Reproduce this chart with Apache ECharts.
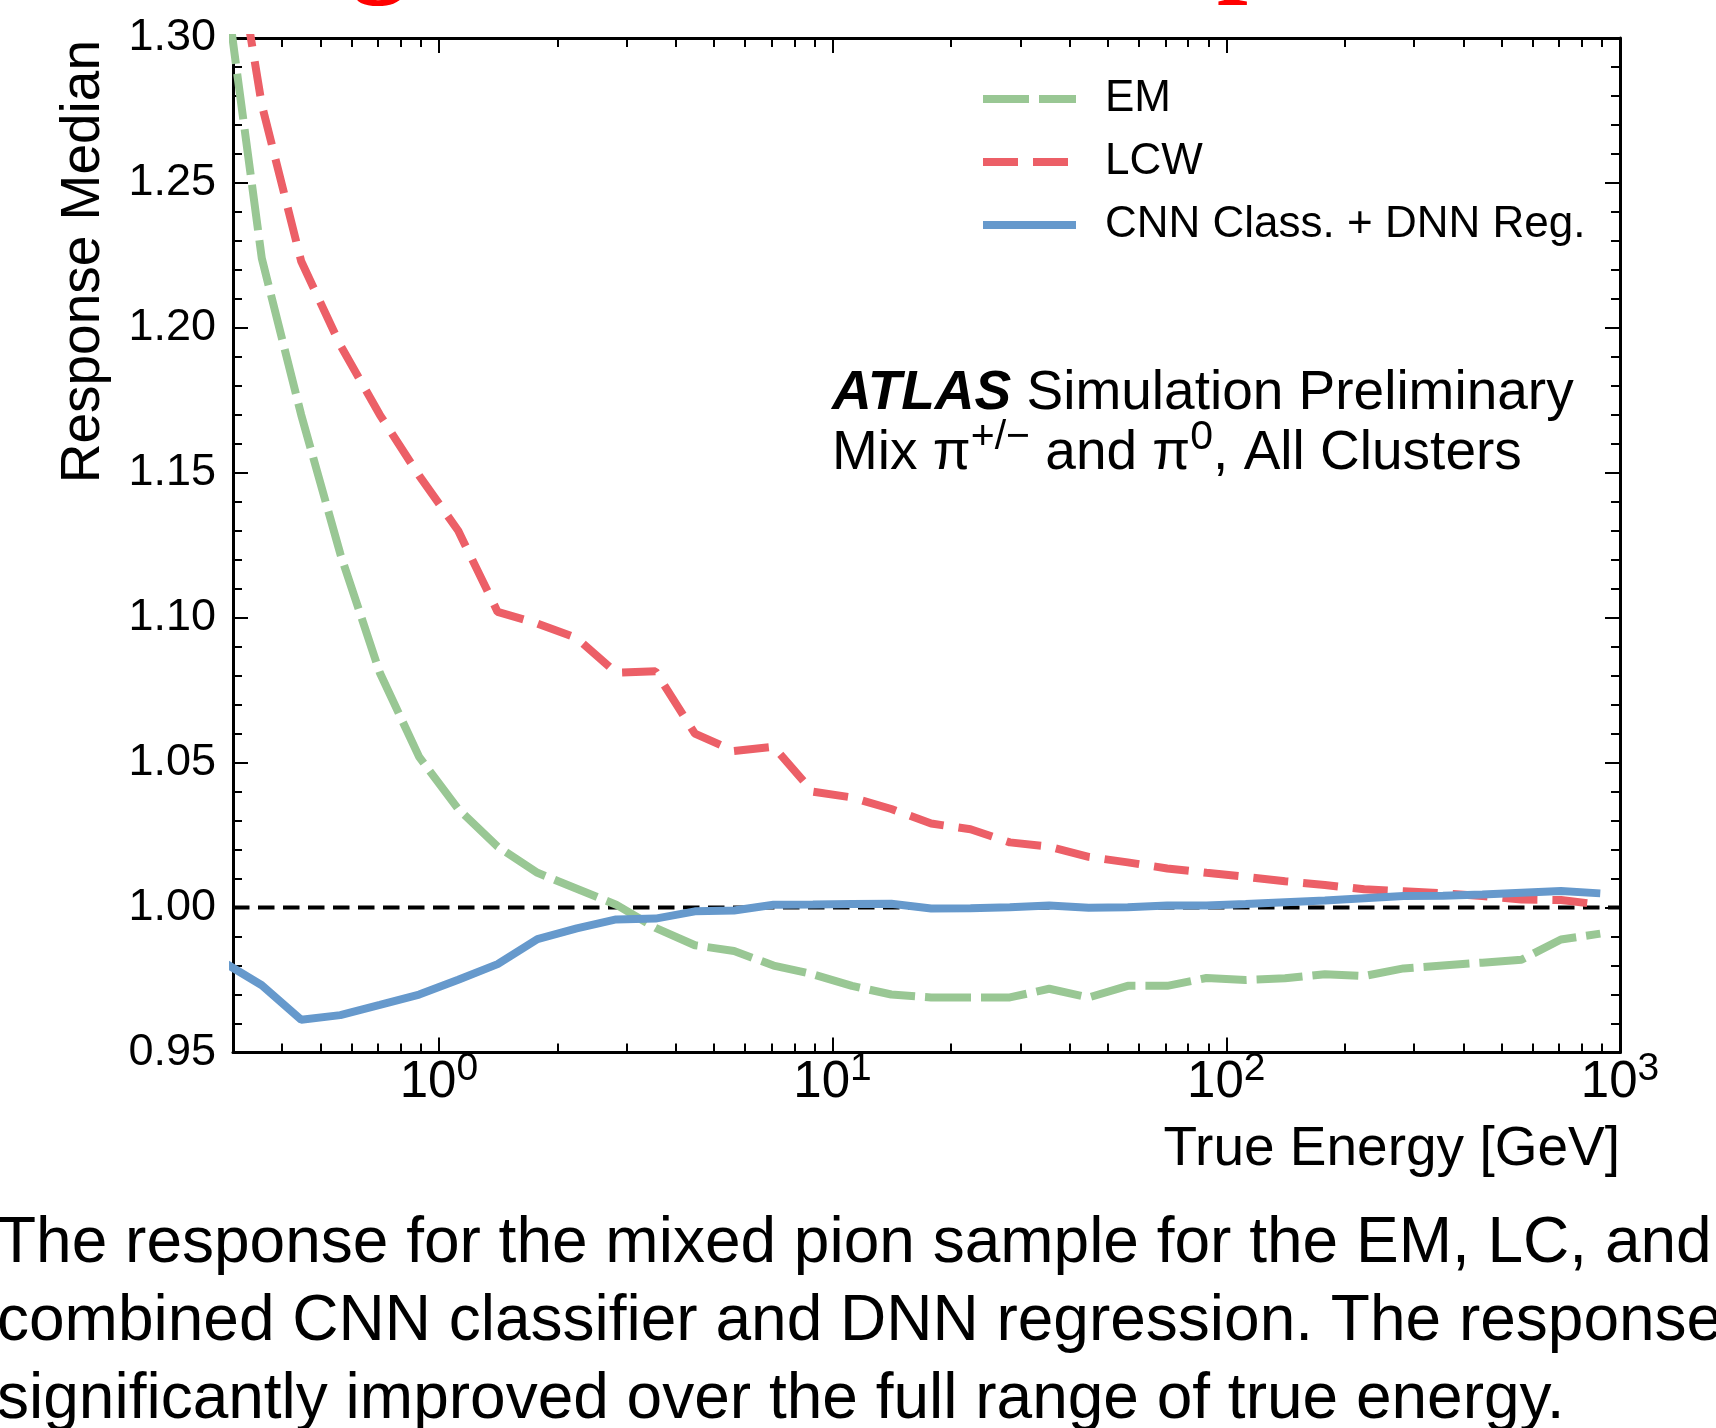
<!DOCTYPE html>
<html>
<head>
<meta charset="utf-8">
<title>Response Median vs True Energy</title>
<script src="https://cdn.jsdelivr.net/npm/echarts@6/dist/echarts.min.js"></script>
<style>
  html, body { margin: 0; padding: 0; background: #fff; }
  #chart { width: 1716px; height: 1428px; }
</style>
</head>
<body>
<div id="chart"></div>
<script>
// bin centres of the true energy [GeV]
const energy = [0.282, 0.355, 0.447, 0.562, 0.708, 0.891, 1.12, 1.41, 1.78, 2.24, 2.82, 3.55,
  4.47, 5.62, 7.08, 8.91, 11.2, 14.1, 17.8, 22.4, 28.2, 35.5, 44.7, 56.2, 70.8, 89.1,
  112, 141, 178, 224, 282, 355, 447, 562, 708, 891];

const emResp = [1.326, 1.224, 1.170, 1.122, 1.081, 1.052, 1.034, 1.021, 1.012, 1.0065, 1.001, 0.993,
  0.987, 0.985, 0.980, 0.977, 0.973, 0.970, 0.969, 0.969, 0.969, 0.972, 0.969, 0.973, 0.973, 0.9757,
  0.975, 0.9756, 0.977, 0.9764, 0.979, 0.980, 0.981, 0.982, 0.989, 0.991];

const lcwResp = [1.36, 1.277, 1.223, 1.194, 1.170, 1.149, 1.130, 1.102, 1.098, 1.093, 1.081, 1.0815,
  1.060, 1.054, 1.0555, 1.040, 1.038, 1.034, 1.029, 1.027, 1.0225, 1.021, 1.0175, 1.0156, 1.0135, 1.012,
  1.0106, 1.0091, 1.0078, 1.0063, 1.0056, 1.0049, 1.004, 1.0028, 1.0026, 1.001];

const cnnResp = [0.9814, 0.9732, 0.9613, 0.9629, 0.9664, 0.970, 0.9751, 0.9805, 0.9891, 0.9928, 0.9959, 0.9962,
  0.9987, 0.999, 1.001, 1.0011, 1.0012, 1.0013, 0.9997, 0.9998, 1.0001, 1.0007, 0.9999, 1.0001, 1.0007, 1.0007,
  1.0012, 1.0018, 1.0024, 1.0032, 1.004, 1.0041, 1.0045, 1.0051, 1.0057, 1.0049];

// unity reference line
const refX = [0.3, 1000];
const refY = [1, 1];

const xMajorTicks = [1, 10, 100, 1000];
const xMinorTicks = [0.4, 0.5, 0.6, 0.7, 0.8, 0.9, 2, 3, 4, 5, 6, 7, 8, 9,
  20, 30, 40, 50, 60, 70, 80, 90, 200, 300, 400, 500, 600, 700, 800, 900];

const FONT = "Liberation Sans";
const captionLines = [
  "The response for the mixed pion sample for the EM, LC, and",
  "combined CNN classifier and DNN regression. The response",
  "significantly improved over the full range of true energy."
];

const pairs = (xs, ys) => xs.map((x, i) => [x, ys[i]]);

const chart = echarts.init(document.getElementById("chart"));

function xAxisDef(pos, ticks, len, withLine, withLabel) {
  return {
    type: "log", logBase: 10, min: 0.3, max: 1000, position: pos,
    axisLine: { show: withLine, onZero: false, lineStyle: { color: "#000", width: 3 } },
    axisTick: { show: true, inside: true, length: len, customValues: ticks, lineStyle: { color: "#000", width: 2 } },
    axisLabel: withLabel ? {
      show: true, customValues: xMajorTicks, margin: 0, color: "#000",
      formatter: v => "{b|10}{s|" + Math.round(Math.log10(v)) + "}",
      rich: {
        b: { fontSize: 51, fontFamily: FONT, color: "#000", lineHeight: 60 },
        s: { fontSize: 39, fontFamily: FONT, color: "#000", lineHeight: 60, padding: [0, 0, 27, 0] }
      }
    } : { show: false },
    splitLine: { show: false }, minorTick: { show: false }, minorSplitLine: { show: false }
  };
}

function yAxisDef(pos, withLabel) {
  return {
    type: "value", min: 0.95, max: 1.30, interval: 0.05, position: pos,
    axisLine: { show: true, onZero: false, lineStyle: { color: "#000", width: 3 } },
    axisTick: { show: true, inside: true, length: 15, lineStyle: { color: "#000", width: 2 } },
    minorTick: { show: true, splitNumber: 5, length: 9, lineStyle: { color: "#000", width: 2 } },
    axisLabel: withLabel ? {
      show: true, fontSize: 45, fontFamily: FONT, color: "#000", margin: 17,
      formatter: v => v.toFixed(2)
    } : { show: false },
    splitLine: { show: false }, minorSplitLine: { show: false }
  };
}

const option = {
  animation: false,
  backgroundColor: "#fff",
  grid: { left: 233, right: 96, top: 38, bottom: 375.5 },
  xAxis: [
    xAxisDef("bottom", xMajorTicks, 15, true, true),
    xAxisDef("bottom", xMinorTicks, 9, false, false),
    xAxisDef("top", xMajorTicks, 15, true, false),
    xAxisDef("top", xMinorTicks, 9, false, false)
  ],
  yAxis: [yAxisDef("left", true), yAxisDef("right", false)],
  legend: {
    orient: "vertical", left: 974, top: 72,
    itemWidth: 93, itemHeight: 24, itemGap: 19,
    data: ["EM", "LCW", "CNN Class. + DNN Reg."],
    itemStyle: { opacity: 0 },
    lineStyle: { width: 8 },
    textStyle: { fontSize: 44, fontFamily: FONT, color: "#000", padding: [0, 0, 0, 24] }
  },
  series: [
    {
      name: "unity", type: "line", data: pairs(refX, refY), symbol: "none", silent: true,
      lineStyle: { color: "#000", width: 4, type: [16.5, 8.5] }, z: 1
    },
    {
      name: "EM", type: "line", data: pairs(energy, emResp), symbol: "none",
      color: "#99C794", lineStyle: { color: "#99C794", width: 8, type: [46, 10] }, z: 2
    },
    {
      name: "LCW", type: "line", data: pairs(energy, lcwResp), symbol: "none",
      color: "#EC5F67", lineStyle: { color: "#EC5F67", width: 8, type: [35, 15] }, z: 3
    },
    {
      name: "CNN Class. + DNN Reg.", type: "line", data: pairs(energy, cnnResp), symbol: "none",
      color: "#6699CC", lineStyle: { color: "#6699CC", width: 8 }, z: 4
    }
  ],
  graphic: [
    // clipped red heading above the figure
    { type: "text", x: 352, y: -46, style: { text: "g", fontSize: 110, fontFamily: "Liberation Serif", fontWeight: "bold", fill: "#ff0000", verticalAlign: "middle" } },
    { type: "text", x: 1217, y: -46, style: { text: "p", fontSize: 110, fontFamily: "Liberation Serif", fontWeight: "bold", fill: "#ff0000", verticalAlign: "middle" } },
    // axis titles
    { type: "text", x: 84, y: 40, rotation: Math.PI / 2,
      style: { text: "Response Median", fontSize: 55, fontFamily: FONT, fill: "#000", align: "right", verticalAlign: "middle" } },
    { type: "text", x: 1620, y: 1150,
      style: { text: "True Energy [GeV]", fontSize: 55, fontFamily: FONT, fill: "#000", align: "right", verticalAlign: "middle" } },
    // ATLAS label
    { type: "text", x: 832, y: 394,
      style: { text: "{a|ATLAS} Simulation Preliminary", fontSize: 55, fontFamily: FONT, fill: "#000", verticalAlign: "middle",
        rich: { a: { fontSize: 55, fontFamily: FONT, fontWeight: "bold", fontStyle: "italic", fill: "#000" } } } },
    { type: "text", x: 832, y: 454,
      style: { text: "Mix π{s|+/−} and π{s|0}, All Clusters", fontSize: 55, fontFamily: FONT, fill: "#000", verticalAlign: "middle", lineHeight: 60,
        rich: { s: { fontSize: 41, fontFamily: FONT, fill: "#000", lineHeight: 60, padding: [0, 0, 33, 0] } } } },
    // caption under the figure
    ...captionLines.map((t, i) => ({
      type: "text", x: -3, y: 1244 + i * 78,
      style: { text: t, fontSize: 64, fontFamily: FONT, fill: "#000", verticalAlign: "middle" }
    }))
  ]
};

chart.setOption(option);
</script>
</body>
</html>
